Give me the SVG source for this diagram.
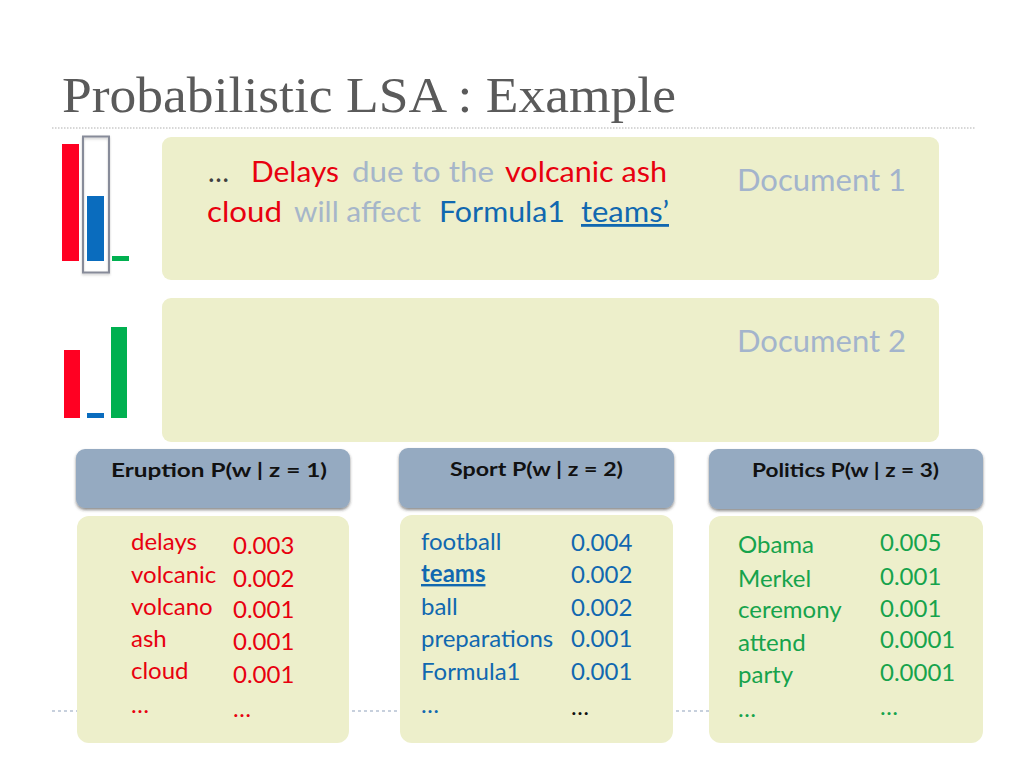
<svg xmlns="http://www.w3.org/2000/svg" width="1024" height="768" viewBox="0 0 1024 768">
<defs>
<style>
.title{font-family:"Liberation Serif","DejaVu Serif",serif;font-size:50px;fill:#5a5a5a}
.doc{fill:#EDEFCB}
.doctxt{font-family:Lato,"Open Sans",sans-serif;font-size:28px}
.doclbl{font-family:Lato,"Open Sans",sans-serif;font-size:31px;fill:#A3B4CC}
.hdr{fill:#95AAC1}
.hdrtxt{font-family:Lato,"Open Sans",sans-serif;font-size:19px;font-weight:bold;fill:#111}
.data{font-family:Lato,"Open Sans",sans-serif;font-size:24px}
.red{fill:#E8000F}
.blue{fill:#1168B0}
.green{fill:#16A34C}
.gray{fill:#A6B6C9}
.dark{fill:#404040}
.blk{fill:#111}
</style>
<filter id="sh" x="-10%" y="-20%" width="120%" height="150%">
<feDropShadow dx="0" dy="2" stdDeviation="1.6" flood-color="#333" flood-opacity="0.55"/>
</filter>
<filter id="sh2" x="-50%" y="-10%" width="200%" height="120%">
<feDropShadow dx="0" dy="1.5" stdDeviation="1.2" flood-color="#666" flood-opacity="0.35"/>
</filter>
</defs>
<rect width="1024" height="768" fill="#fff"/>

<g id="decor">
<line x1="52" y1="128" x2="975" y2="128" stroke="#B0B0B0" stroke-width="1.2" stroke-dasharray="1.5 1.5"/>
<line x1="52" y1="711" x2="975" y2="711" stroke="#8FA2BB" stroke-width="1.2" stroke-dasharray="3 3"/>
</g>

<g id="title">
<text class="title" x="62" y="112" textLength="614" lengthAdjust="spacingAndGlyphs">Probabilistic LSA : Example</text>
</g>

<g id="chart1">
<rect x="62" y="144" width="17" height="117" fill="#FF0022"/>
<rect x="87" y="196" width="17" height="65" fill="#0A6CBE"/>
<rect x="112" y="256" width="17" height="5" fill="#00B050"/>
<rect x="83" y="136.5" width="26" height="136" fill="none" stroke="#878B99" stroke-width="2" filter="url(#sh2)"/>
</g>

<g id="chart2">
<rect x="64" y="350" width="16" height="68" fill="#FF0022"/>
<rect x="87" y="413" width="17" height="5" fill="#0A6CBE"/>
<rect x="111" y="327" width="16" height="91" fill="#00B050"/>
</g>

<g id="document1">
<rect class="doc" x="162" y="137" width="777" height="143" rx="9"/>
<text class="doctxt" y="182"><tspan class="dark" x="208" textLength="29" lengthAdjust="spacing">…</tspan><tspan class="red" x="251" textLength="88" lengthAdjust="spacingAndGlyphs">Delays</tspan><tspan class="gray" x="352" textLength="142" lengthAdjust="spacingAndGlyphs">due to the</tspan><tspan class="red" x="505" textLength="162" lengthAdjust="spacingAndGlyphs">volcanic ash</tspan></text>
<text class="doctxt" y="222"><tspan class="red" x="207" textLength="75" lengthAdjust="spacingAndGlyphs">cloud</tspan><tspan class="gray" x="294" textLength="127" lengthAdjust="spacingAndGlyphs">will affect</tspan><tspan class="blue" x="439" textLength="126" lengthAdjust="spacingAndGlyphs">Formula1</tspan><tspan class="blue" x="581" textLength="88" lengthAdjust="spacingAndGlyphs" text-decoration="underline">teams’</tspan></text>
<text class="doclbl" x="737" y="191">Document 1</text>
</g>

<g id="document2">
<rect class="doc" x="162" y="298" width="777" height="144" rx="9"/>
<text class="doclbl" x="737" y="352">Document 2</text>
</g>

<g id="topic1">
<rect class="hdr" x="76" y="449" width="274" height="59" rx="9" filter="url(#sh)"/>
<text class="hdrtxt" x="111" y="477" textLength="216" lengthAdjust="spacingAndGlyphs">Eruption P(w | z = 1)</text>
<rect class="doc" x="77" y="516" width="272" height="227" rx="12"/>
<g class="data red">
<text x="131" y="550">delays</text>
<text x="131" y="583">volcanic</text>
<text x="131" y="615">volcano</text>
<text x="131" y="647">ash</text>
<text x="131" y="679">cloud</text>
<text x="131" y="713" textLength="22">…</text>
<text x="233" y="554">0.003</text>
<text x="233" y="587">0.002</text>
<text x="233" y="618">0.001</text>
<text x="233" y="650">0.001</text>
<text x="233" y="683">0.001</text>
<text x="233" y="717" textLength="22">…</text>
</g>
</g>

<g id="topic2">
<rect class="hdr" x="399" y="448" width="275" height="60" rx="9" filter="url(#sh)"/>
<text class="hdrtxt" x="450" y="476" textLength="173" lengthAdjust="spacingAndGlyphs">Sport P(w | z = 2)</text>
<rect class="doc" x="400" y="515" width="273" height="228" rx="12"/>
<g class="data blue">
<text x="421" y="550">football</text>
<text x="421" y="582" font-weight="bold" text-decoration="underline">teams</text>
<text x="421" y="615">ball</text>
<text x="421" y="647">preparations</text>
<text x="421" y="680">Formula1</text>
<text x="421" y="713" textLength="22">…</text>
<text x="571" y="551">0.004</text>
<text x="571" y="583">0.002</text>
<text x="571" y="616">0.002</text>
<text x="571" y="647">0.001</text>
<text x="571" y="680">0.001</text>
<text x="571" y="715" class="blk" textLength="22">…</text>
</g>
</g>

<g id="topic3">
<rect class="hdr" x="709" y="449" width="274" height="60" rx="9" filter="url(#sh)"/>
<text class="hdrtxt" x="752" y="477" textLength="187" lengthAdjust="spacingAndGlyphs">Politics P(w | z = 3)</text>
<rect class="doc" x="709" y="516" width="274" height="227" rx="12"/>
<g class="data green">
<text x="738" y="553">Obama</text>
<text x="738" y="587">Merkel</text>
<text x="738" y="618">ceremony</text>
<text x="738" y="651">attend</text>
<text x="738" y="683">party</text>
<text x="738" y="717" textLength="22">…</text>
<text x="880" y="551">0.005</text>
<text x="880" y="585">0.001</text>
<text x="880" y="617">0.001</text>
<text x="880" y="648">0.0001</text>
<text x="880" y="681">0.0001</text>
<text x="880" y="715" textLength="22">…</text>
</g>
</g>
</svg>
